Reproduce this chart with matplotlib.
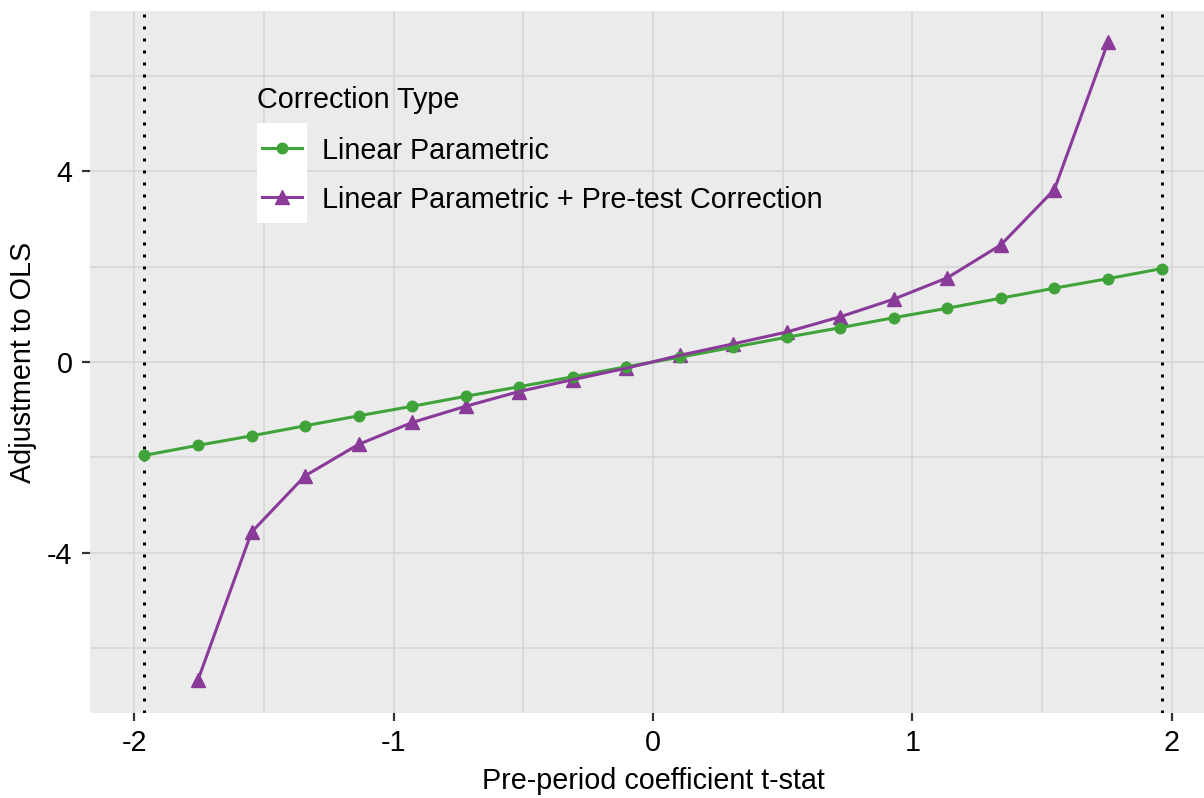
import matplotlib
matplotlib.use("Agg")
import matplotlib.pyplot as plt
from matplotlib.lines import Line2D
from matplotlib.patches import Rectangle
from matplotlib.ticker import MultipleLocator

plt.rcParams['font.family'] = ['Liberation Sans', 'DejaVu Sans']
plt.rcParams['axes.unicode_minus'] = False

# Pre-period coefficient t-stat grid
tstat = [-1.96, -1.754, -1.547, -1.341, -1.135, -0.928, -0.722, -0.516, -0.309, -0.103,
         0.103, 0.309, 0.516, 0.722, 0.928, 1.135, 1.341, 1.547, 1.754, 1.96]
# Adjustment under the linear parametric correction
linear_adj = [-1.96, -1.75, -1.55, -1.34, -1.13, -0.93, -0.72, -0.52, -0.31, -0.10,
              0.10, 0.31, 0.52, 0.72, 0.93, 1.13, 1.34, 1.55, 1.75, 1.96]
# Adjustment with the pre-test correction (defined inside the critical values)
pretest_t = tstat[1:-1]
pretest_adj = [-6.68, -3.57, -2.39, -1.73, -1.27, -0.93, -0.62, -0.37, -0.13,
               0.14, 0.38, 0.63, 0.95, 1.32, 1.77, 2.46, 3.62, 6.72]
crit_values = [-1.96, 1.96]

series_names = ["Linear Parametric", "Linear Parametric + Pre-test Correction"]
legend_title = "Correction Type"
x_label = "Pre-period coefficient t-stat"
y_label = "Adjustment to OLS"

GREEN = "#3fa33a"
PURPLE = "#8a3a99"
W, H = 1204, 798
FS = 20.7

fig = plt.figure(figsize=(W / 100, H / 100), dpi=100)
fig.patch.set_facecolor("white")

# panel in pixel coordinates (left, top, right, bottom)
pl, pt, pr, pb = 90, 11, 1216, 713
ax = fig.add_axes([pl / W, 1 - pb / H, (pr - pl) / W, (pb - pt) / H])
ax.set_facecolor("#ebebeb")
for s in ax.spines.values():
    s.set_visible(False)

ax.set_xlim(-2.17, 2.17)
ax.set_ylim(-7.37, 7.37)
ax.xaxis.set_major_locator(MultipleLocator(1))
ax.xaxis.set_minor_locator(MultipleLocator(0.5))
ax.yaxis.set_major_locator(MultipleLocator(4))
ax.yaxis.set_minor_locator(MultipleLocator(2))
ax.grid(which="both", color="#d4d4d4", linewidth=1.1)
ax.set_axisbelow(True)
ax.tick_params(which="minor", length=0)
ax.tick_params(which="major", length=6.1, width=1.6, color="#333333",
               labelsize=FS, labelcolor="black", pad=5.5)
ax.tick_params(axis="y", pad=6.5)

for cv in crit_values:
    ax.axvline(cv, color="black", linewidth=2.16, linestyle=(0, (1, 3)), zorder=2)

ax.plot(pretest_t, pretest_adj, linestyle="none", marker="^", markersize=10,
        color=PURPLE, zorder=3)
ax.plot(tstat, linear_adj, linestyle="none", marker="o", markersize=7.6,
        color=GREEN, zorder=4)
ax.plot(tstat, linear_adj, color=GREEN, linewidth=2.2, zorder=5)
ax.plot(pretest_t, pretest_adj, color=PURPLE, linewidth=2.2, zorder=6)

fig.text(653 / W, 1 - 789 / H, x_label, fontsize=FS, ha="center", va="baseline")
fig.text(23 / W, 1 - 362 / H, y_label, fontsize=FS, ha="center", va="center",
         rotation=90)


def px(x, y):
    return (x / W, 1 - y / H)


# legend drawn inside the panel
fig.text(*px(257, 99.5), legend_title, fontsize=FS, ha="left", va="center", zorder=10)
fig.patches.append(Rectangle(px(257, 223), 50 / W, 100 / H, transform=fig.transFigure,
                             facecolor="white", edgecolor="none", zorder=9))
keys = [(148, GREEN, "o", 7.6), (197, PURPLE, "^", 10)]
for (ky, col, mk, ms), name in zip(keys, series_names):
    x0, y0 = px(262, ky)
    x1, _ = px(302, ky)
    xm, _ = px(282, ky)
    fig.lines.append(Line2D([x0, x1], [y0, y0], transform=fig.transFigure,
                            color=col, linewidth=2.2, zorder=10))
    fig.lines.append(Line2D([xm], [y0], transform=fig.transFigure, marker=mk,
                            markersize=ms, color=col, linestyle="none", zorder=11))
    fig.text(*px(322, ky + 3), name, fontsize=FS, ha="left", va="center", zorder=10)

fig.savefig("out.png", dpi=100)
